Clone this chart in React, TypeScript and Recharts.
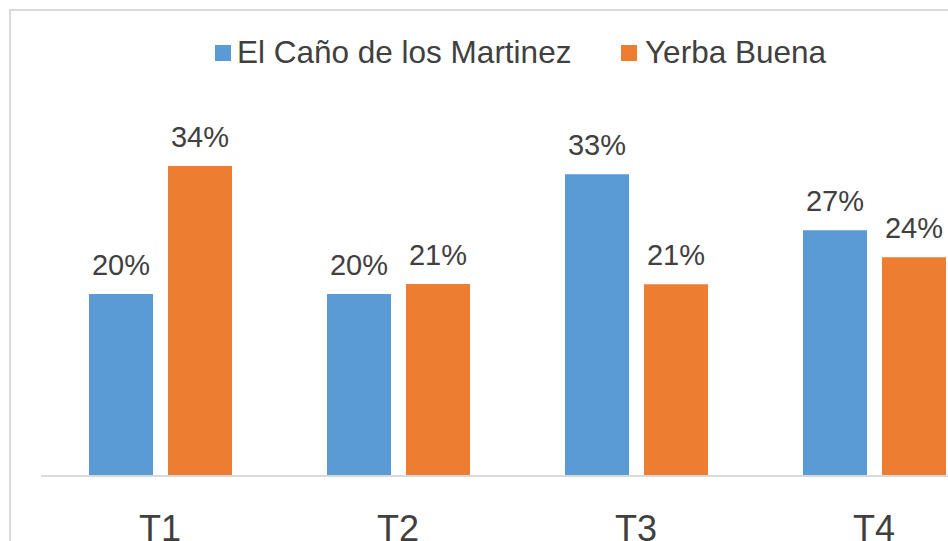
import React from 'react';
import { BarChart, Bar, XAxis, YAxis, Legend, LabelList } from 'recharts';

const categories = ['T1', 'T2', 'T3', 'T4'];
const elCanoValues = [0.2, 0.2, 0.3315, 0.27];
const yerbaValues = [0.3407, 0.211, 0.2107, 0.2403];
const seriesNames = ['El Caño de los Martinez', 'Yerba Buena'];
const seriesColors = ['#5B9BD5', '#ED7D31'];

const data = categories.map((c, i) => ({
  name: c,
  elCano: elCanoValues[i],
  yerba: yerbaValues[i],
}));

const FONT = '"Liberation Sans", Arial, sans-serif';
const TEXT = '#404040';

const pct = (v: any) => `${Math.round(Number(v) * 100)}%`;

const LegendContent = () => (
  <div style={{ display: 'flex', alignItems: 'center', fontFamily: FONT, fontSize: 31.5, color: TEXT, lineHeight: '31.5px', whiteSpace: 'nowrap' }}>
    {seriesNames.map((n, i) => (
      <div key={n} style={{ display: 'flex', alignItems: 'center', width: i === 0 ? 406 : 'auto' }}>
        <div style={{ width: 16, height: 16, background: seriesColors[i], marginRight: i === 0 ? 6 : 8 }} />
        <span>{n}</span>
      </div>
    ))}
  </div>
);

export default function App() {
  return (
    <div style={{ position: 'relative', width: 948, height: 541, overflow: 'hidden', background: '#fff' }}>
      <style>{'body{margin:0;overflow:hidden}'}</style>
      <div style={{ position: 'absolute', left: 9, top: 9, width: 1200, height: 800, border: '2px solid #d9d9d9' }} />
      <div style={{ position: 'absolute', left: 0, top: 0 }}>
        <BarChart
          width={1003}
          height={541}
          data={data}
          margin={{ top: 112, right: 10, bottom: 0, left: 41 }}
          barSize={64}
          barGap={15}
        >
          <YAxis hide domain={[0, 0.4]} />
          <XAxis
            dataKey="name"
            height={65}
            interval={0}
            tickLine={false}
            tickSize={37}
            tickMargin={2}
            axisLine={{ stroke: '#d9d9d9', strokeWidth: 2 }}
            tick={{ fontSize: 36, fill: TEXT, fontFamily: FONT }}
          />
          <Legend
            layout="horizontal"
            verticalAlign="middle"
            align="center"
            content={<LegendContent />}
            wrapperStyle={{ left: 215, top: 37, width: 'auto', height: 31.5 }}
          />
          <Bar dataKey="elCano" name={seriesNames[0]} fill={seriesColors[0]} isAnimationActive={false}>
            <LabelList dataKey="elCano" position="top" offset={19} formatter={pct} style={{ fontSize: 29, fill: TEXT, fontFamily: FONT }} />
          </Bar>
          <Bar dataKey="yerba" name={seriesNames[1]} fill={seriesColors[1]} isAnimationActive={false}>
            <LabelList dataKey="yerba" position="top" offset={19} formatter={pct} style={{ fontSize: 29, fill: TEXT, fontFamily: FONT }} />
          </Bar>
        </BarChart>
      </div>
    </div>
  );
}
